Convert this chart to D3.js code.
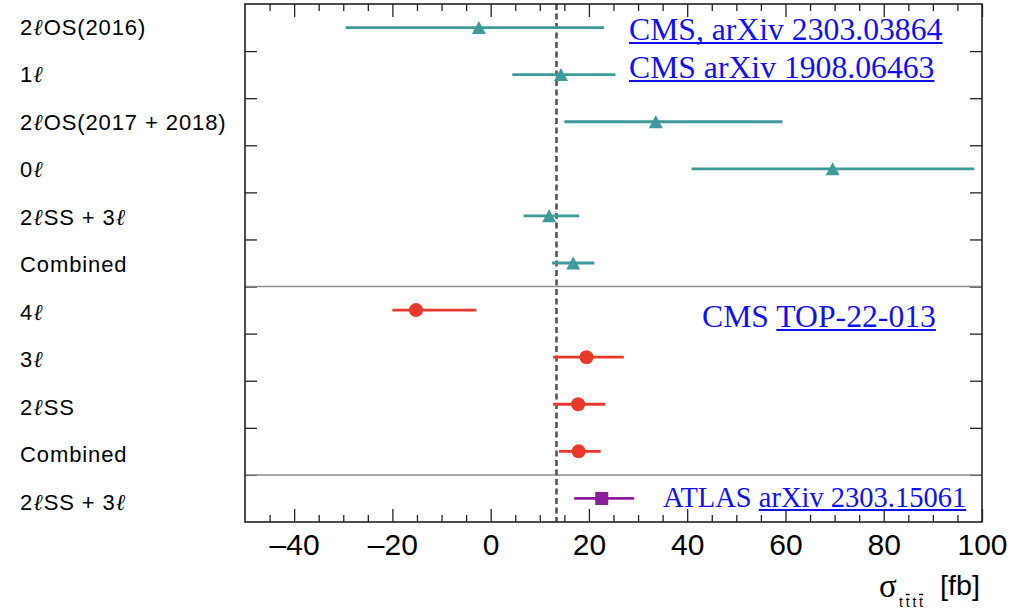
<!DOCTYPE html>
<html><head><meta charset="utf-8">
<script src="https://cdn.jsdelivr.net/npm/d3@7"></script>
<style>body{margin:0;background:#fff} svg{display:block}</style>
</head><body>
<svg id="c" width="1009" height="616"></svg>
<script>
// ---------- data ----------
const labels = ["2ℓOS(2016)", "1ℓ", "2ℓOS(2017 + 2018)", "0ℓ", "2ℓSS + 3ℓ", "Combined",
                "4ℓ", "3ℓ", "2ℓSS", "Combined", "2ℓSS + 3ℓ"];
const groups = ["cms1", "cms1", "cms1", "cms1", "cms1", "cms1", "cms2", "cms2", "cms2", "cms2", "atlas"];
const central = [-2.4, 14.3, 33.6, 69.6, 11.9, 16.8, -15.2, 19.5, 17.8, 17.9, 22.6];
const lower   = [-29.5, 4.4, 15.0, 40.9, 6.7, 12.5, -20.0, 12.7, 12.7, 13.9, 17.0];
const upper   = [23.1, 25.4, 59.4, 98.4, 18.0, 21.1, -2.9, 27.1, 23.3, 22.4, 29.2];
const smValue = 13.4;
const xMajorTicks = [-40, -20, 0, 20, 40, 60, 80, 100];
const xDomain = [-50, 100];
const separatorRows = [6, 10];
const noteCms1a = [{t: "CMS, arXiv 2303.03864", link: true}];
const noteCms1b = [{t: "CMS arXiv 1908.06463", link: true}];
const noteCms2  = [{t: "CMS ", link: false}, {t: "TOP-22-013", link: true}];
const noteAtlas = [{t: "ATLAS ", link: false}, {t: "arXiv 2303.15061", link: true}];

// ---------- layout ----------
const svg = d3.select("#c");
const L = 245, R = 982, T = 4, B = 522;
const colors = {cms1: "#3f9a9b", cms2: "#e8392b", atlas: "#8b1c9b"};
const idx = d3.range(labels.length);
const SANS = "'Liberation Sans', Arial, Helvetica, sans-serif";
const SERIF = "'Liberation Serif', 'Times New Roman', serif";

const x = d3.scaleLinear().domain(xDomain).range([L, R]);
const yBand = d3.scaleBand().domain(idx).range([T, B]);
const yRow = d3.scaleLinear().domain([0, labels.length]).range([T, B]);
const yLabel = d3.scalePoint().domain(idx).range([34.5, 509.5]);
const yc = i => yBand(i) + yBand.bandwidth() / 2;

const minorTicks = d3.range(xDomain[0] + 5, xDomain[1], 5).filter(v => v % 20 !== 0);

function styleAxis(g) {
  g.select(".domain").remove();
  g.selectAll("line").attr("stroke", "#222").attr("stroke-width", 1.3);
}
// bottom axis
const gB = svg.append("g").attr("transform", `translate(0,${B})`)
  .call(d3.axisBottom(x).tickValues(xMajorTicks).tickSize(-13).tickPadding(12)
        .tickFormat(d => d < 0 ? "–" + Math.abs(d) : String(d)));
styleAxis(gB);
gB.selectAll("text").attr("font-family", SANS).attr("font-size", 30).attr("fill", "#000");
styleAxis(svg.append("g").attr("transform", `translate(0,${B})`)
  .call(d3.axisBottom(x).tickValues(minorTicks).tickSize(-7).tickFormat("")));
// top axis
styleAxis(svg.append("g").attr("transform", `translate(0,${T})`)
  .call(d3.axisTop(x).tickValues(xMajorTicks).tickSize(-13).tickFormat("")));
styleAxis(svg.append("g").attr("transform", `translate(0,${T})`)
  .call(d3.axisTop(x).tickValues(minorTicks).tickSize(-7).tickFormat("")));

// y ticks left/right
const rowBounds = d3.range(1, labels.length);
styleAxis(svg.append("g").attr("transform", `translate(${L},0)`)
  .call(d3.axisLeft(yRow).tickValues(rowBounds).tickSize(-12).tickFormat("")));
styleAxis(svg.append("g").attr("transform", `translate(${R},0)`)
  .call(d3.axisRight(yRow).tickValues(rowBounds).tickSize(-12).tickFormat("")));

// separators
svg.append("g").selectAll("line").data(separatorRows).join("line")
  .attr("x1", L).attr("x2", R).attr("y1", d => yRow(d)).attr("y2", d => yRow(d))
  .attr("stroke", "#8c8c8c").attr("stroke-width", 1.5);

// SM dashed line
svg.append("line").attr("x1", x(smValue)).attr("x2", x(smValue)).attr("y1", T).attr("y2", B)
  .attr("stroke", "#555").attr("stroke-width", 2.6).attr("stroke-dasharray", "6,3.5");

// frame
svg.append("rect").attr("x", L).attr("y", T).attr("width", R - L).attr("height", B - T)
  .attr("fill", "none").attr("stroke", "#222").attr("stroke-width", 1.6);

// row labels (ℓ drawn as italic script)
const lab = svg.append("g").selectAll("text").data(idx).join("text")
  .attr("x", 20).attr("y", i => yLabel(i))
  .attr("font-family", SANS).attr("font-size", 22).attr("letter-spacing", 0.9).attr("fill", "#000");
lab.each(function(i) {
  const t = d3.select(this);
  labels[i].split(/(ℓ)/).filter(s => s.length).forEach(s => {
    const ts = t.append("tspan").text(s);
    if (s === "ℓ") ts.attr("font-family", SERIF).attr("font-style", "italic").attr("font-size", 23);
  });
});

// error bars
svg.append("g").selectAll("line").data(idx).join("line")
  .attr("x1", i => x(lower[i])).attr("x2", i => x(upper[i]))
  .attr("y1", i => yc(i)).attr("y2", i => yc(i))
  .attr("stroke", i => colors[groups[i]]).attr("stroke-width", 2.8);

// markers
const mk = svg.append("g");
mk.selectAll("path.tri").data(idx.filter(i => groups[i] === "cms1")).join("path")
  .attr("class", "tri")
  .attr("d", "M0,-6.6 L7,6.4 L-7,6.4 Z")
  .attr("transform", i => `translate(${x(central[i])},${yc(i)})`)
  .attr("fill", colors.cms1);
mk.selectAll("circle").data(idx.filter(i => groups[i] === "cms2")).join("circle")
  .attr("cx", i => x(central[i])).attr("cy", i => yc(i)).attr("r", 7)
  .attr("fill", colors.cms2);
mk.selectAll("rect").data(idx.filter(i => groups[i] === "atlas")).join("rect")
  .attr("x", i => x(central[i]) - 6.5).attr("y", i => yc(i) - 6.5)
  .attr("width", 13).attr("height", 13).attr("fill", colors.atlas);

// annotations
function note(parts, x0, y0, size) {
  const t = svg.append("text").attr("x", x0).attr("y", y0)
    .attr("font-family", SERIF).attr("font-size", size).attr("fill", "#1010f5");
  parts.forEach(p => {
    const ts = t.append("tspan").text(p.t);
    if (p.link) {
      const bb = ts.node().getBBox();
      svg.append("line").attr("x1", bb.x).attr("x2", bb.x + bb.width)
        .attr("y1", y0 + 3).attr("y2", y0 + 3)
        .attr("stroke", "#1010f5").attr("stroke-width", 2);
    }
  });
}
note(noteCms1a, 629, 40, 31.7);
note(noteCms1b, 629, 78, 31.7);
note(noteCms2, 702, 327, 31.7);
note(noteAtlas, 663, 507, 28.5);

// axis title: σ_{t t̄ t t̄} [fb]
svg.append("text").attr("x", 879).attr("y", 597)
  .attr("font-family", SERIF).attr("font-size", 33).attr("fill", "#000").text("σ");
const sub = svg.append("text").attr("x", 899).attr("y", 607)
  .attr("font-family", SANS).attr("font-size", 14).attr("fill", "#000")
  .attr("textLength", 24).attr("lengthAdjust", "spacing").text("tttt");
[1, 3].forEach(ci => {
  const e = sub.node().getExtentOfChar(ci);
  svg.append("line").attr("x1", e.x).attr("x2", e.x + e.width)
    .attr("y1", 594.5).attr("y2", 594.5).attr("stroke", "#000").attr("stroke-width", 1.4);
});
svg.append("text").attr("x", 940).attr("y", 595)
  .attr("font-family", SANS).attr("font-size", 27).attr("fill", "#000")
  .attr("textLength", 40).attr("lengthAdjust", "spacingAndGlyphs").text("[fb]");
</script>
</body></html>
